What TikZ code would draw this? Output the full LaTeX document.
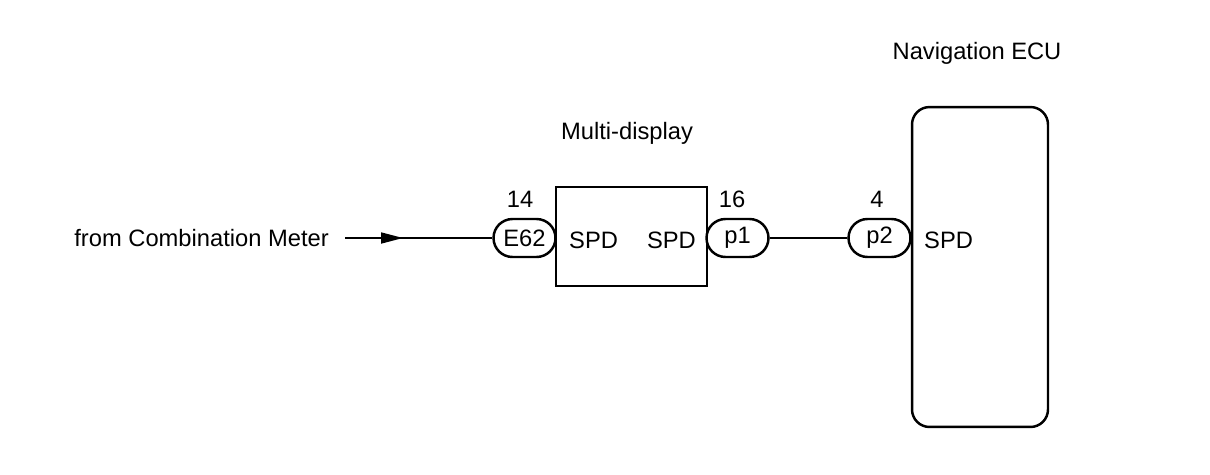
\documentclass[tikz,border=0pt]{standalone}
\usepackage{fontspec}
\setmainfont{Liberation Sans}
\usetikzlibrary{shapes.misc,arrows.meta}
\tikzset{
  conn/.style={rounded rectangle,draw,line width=1.4pt,minimum width=1.24cm,minimum height=0.76cm,inner sep=0pt},
  unit/.style={draw,line width=1.4pt,inner sep=0pt}
}
\begin{document}
\begin{tikzpicture}[x=0.02cm,y=-0.02cm,font=\fontsize{13.5}{16}\selectfont]
\useasboundingbox (0,0) rectangle (1210,474);

\node[unit,minimum width=3.02cm,minimum height=1.98cm] (md) at (631.5,236.5) {};
\node[unit,rounded corners=0.35cm,minimum width=2.72cm,minimum height=6.4cm] (ecu) at (980,267) {};

\node[conn] (e62) at (524.5,238) {E62};
\node[conn] (p1) at (737.5,238) {p1};
\node[conn] (p2) at (879.5,238) {p2};

\node at (520,199) {14};
\node at (732,199) {16};
\node at (877,199) {4};

\node at (627,133) {Multi-display};
\node at (977,53) {Navigation ECU};

\node[anchor=west] at (563,240) {SPD};
\node[anchor=east] at (702,240) {SPD};
\node[anchor=west] at (918,240) {SPD};

\node[anchor=east] (src) at (335,238) {from Combination Meter};
\coordinate (start) at (345,238);
\coordinate (tip) at (403,238);

\draw[line width=1pt] (start) -- (e62);
\draw[line width=1pt,-{Triangle[length=0.44cm,width=0.22cm]}] (start) -- (tip);
\draw[line width=1pt] (p1) -- (p2);

\end{tikzpicture}
\end{document}
